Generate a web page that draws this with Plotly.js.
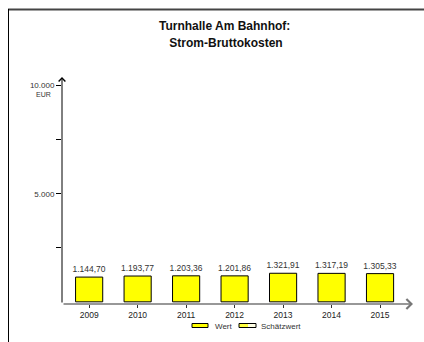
<!DOCTYPE html>
<html>
<head>
<meta charset="utf-8">
<script src="https://cdn.plot.ly/plotly-3.0.1.min.js"></script>
<style>
  html, body { margin: 0; padding: 0; background: #fff; }
  #chart { width: 424px; height: 342px; }
</style>
</head>
<body>
<div id="chart"></div>
<script>
// ---- data ----
const years = ['2009', '2010', '2011', '2012', '2013', '2014', '2015'];
const wert = [1144.70, 1193.77, 1203.36, 1201.86, 1321.91, 1317.19, 1305.33];
const yTickVals = [2500, 5000, 7500, 10000];
const yTickText = ['', '5.000', '', '10.000'];
const titleLines = ['Turnhalle Am Bahnhof:', ' Strom-Bruttokosten'];
const unitLabel = 'EUR';
const legendNames = ['Wert', 'Schätzwert'];

const FONT = 'Liberation Sans, Arial, sans-serif';
const plotH = 342 - 77 - 38;
const plotW = 424 - 62 - 11;
const py = (pix) => (304 - pix) / plotH;   // pixel row -> paper y
const px = (pix) => (pix - 62) / plotW;    // pixel col -> paper x

const trace = {
  type: 'bar',
  x: years,
  y: wert,
  width: 0.56,
  marker: { color: '#ffff00', line: { color: '#000', width: 1 } },
  texttemplate: '%{y:,.2f}',
  textposition: 'outside',
  constraintext: 'none',
  textfont: { family: FONT, size: 8.5, color: '#333' },
  cliponaxis: false,
  hoverinfo: 'skip',
  showlegend: false
};

const titleFont = { family: FONT, size: 12, color: '#111', weight: 'bold' };

const layout = {
  width: 424, height: 342,
  margin: { l: 62, r: 11, t: 77, b: 38 },
  paper_bgcolor: '#fff', plot_bgcolor: '#fff',
  separators: ',.',
  font: { family: FONT, size: 8.5, color: '#222' },
  showlegend: false,
  xaxis: {
    type: 'category',
    range: [-0.56, 6.68],
    showline: false, showgrid: false, zeroline: false,
    ticks: 'outside', ticklen: 3, tickcolor: '#333', tickwidth: 1,
    tickfont: { family: FONT, size: 8.5, color: '#222' }
  },
  yaxis: {
    range: [-100, 10400],
    showline: false, showgrid: false, zeroline: false,
    tickvals: yTickVals, ticktext: yTickText,
    ticks: 'outside', ticklen: 5, tickcolor: '#000', tickwidth: 1,
    tickfont: { family: FONT, size: 8, color: '#333' }
  },
  shapes: [
    // outer frame (top and left)
    { type: 'line', xref: 'paper', yref: 'paper',
      x0: px(8), x1: px(430), y0: py(9.5), y1: py(9.5),
      line: { color: '#444', width: 2 } },
    { type: 'line', xref: 'paper', yref: 'paper',
      x0: px(8.5), x1: px(8.5), y0: py(9), y1: py(350),
      line: { color: '#000', width: 1 } },
    // legend swatches
    { type: 'rect', xref: 'paper', yref: 'paper',
      x0: px(192), x1: px(208), y0: py(323.5), y1: py(327.5),
      fillcolor: '#ffff00', line: { color: '#000', width: 1 } },
    { type: 'rect', xref: 'paper', yref: 'paper',
      x0: px(239), x1: px(248), y0: py(323.5), y1: py(327.5),
      fillcolor: '#ffff00', line: { width: 0 } },
    { type: 'rect', xref: 'paper', yref: 'paper',
      x0: px(239), x1: px(256), y0: py(323.5), y1: py(327.5),
      fillcolor: 'rgba(255,255,180,0.35)', line: { color: '#000', width: 1 } }
  ],
  annotations: [
    // title lines
    { xref: 'paper', yref: 'paper', x: px(224.5), y: py(26.5), xanchor: 'center', yanchor: 'middle',
      text: titleLines[0], showarrow: false, font: titleFont },
    { xref: 'paper', yref: 'paper', x: px(224.5), y: py(42.5), xanchor: 'center', yanchor: 'middle',
      text: titleLines[1], showarrow: false, font: titleFont },
    // y axis with arrow
    { xref: 'paper', yref: 'paper', x: 0, y: 1, axref: 'pixel', ayref: 'pixel', ax: 0, ay: plotH,
      text: '', showarrow: true, arrowhead: 4, arrowsize: 1.3, arrowwidth: 1, arrowcolor: '#000', standoff: 0 },
    // x axis with arrow
    { xref: 'paper', yref: 'paper', x: 1, y: 0, axref: 'pixel', ayref: 'pixel', ax: -plotW, ay: 0,
      text: '', showarrow: true, arrowhead: 4, arrowsize: 1.3, arrowwidth: 1.5, arrowcolor: '#777', standoff: 0 },
    // unit label
    { xref: 'paper', yref: 'y', x: 0, y: 10000, xshift: -19, yshift: -3, xanchor: 'center', yanchor: 'top',
      text: unitLabel, showarrow: false, font: { family: FONT, size: 7, color: '#333' } },
    // legend texts
    { xref: 'paper', yref: 'paper', x: px(213), y: py(326), xanchor: 'left', yanchor: 'middle',
      text: legendNames[0], showarrow: false, font: { family: FONT, size: 8, color: '#333' } },
    { xref: 'paper', yref: 'paper', x: px(259), y: py(326), xanchor: 'left', yanchor: 'middle',
      text: legendNames[1], showarrow: false, font: { family: FONT, size: 8, color: '#333' } }
  ]
};

Plotly.newPlot('chart', [trace], layout, { displayModeBar: false, staticPlot: true });
</script>
</body>
</html>
